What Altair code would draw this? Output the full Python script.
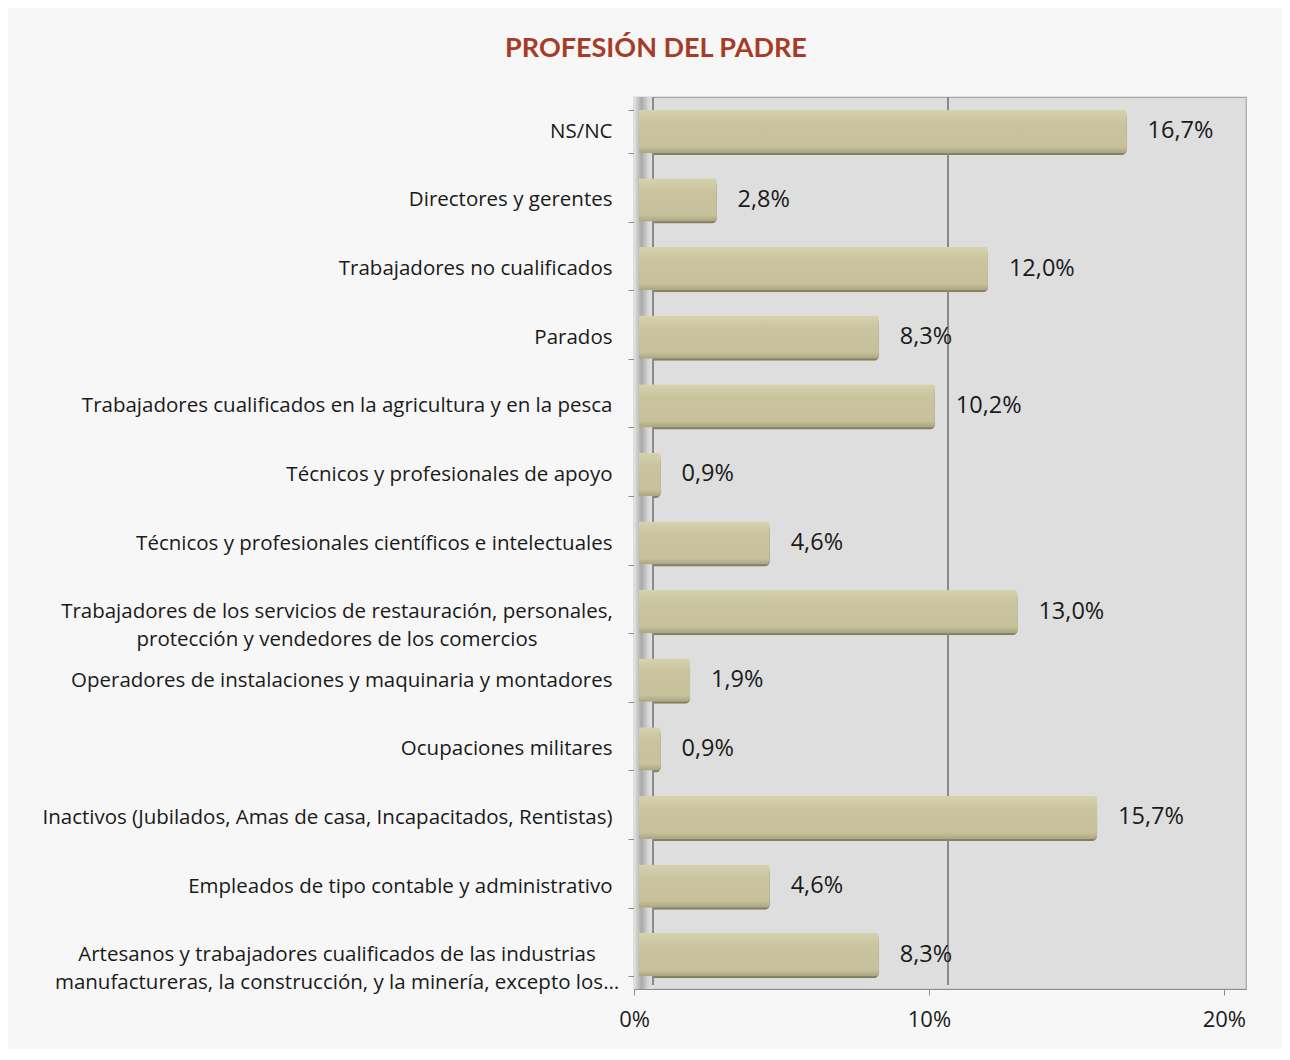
import altair as alt
import pandas as pd

categories = [
    "NS/NC",
    "Directores y gerentes",
    "Trabajadores no cualificados",
    "Parados",
    "Trabajadores cualificados en la agricultura y en la pesca",
    "Técnicos y profesionales de apoyo",
    "Técnicos y profesionales científicos e intelectuales",
    "Trabajadores de los servicios de restauración, personales,|protección y vendedores de los comercios",
    "Operadores de instalaciones y maquinaria y montadores",
    "Ocupaciones militares",
    "Inactivos (Jubilados, Amas de casa, Incapacitados, Rentistas)",
    "Empleados de tipo contable y administrativo",
    "Artesanos y trabajadores cualificados de las industrias|manufactureras, la construcción, y la minería, excepto los…",
]
values = [16.7, 2.8, 12.0, 8.3, 10.2, 0.9, 4.6, 13.0, 1.9, 0.9, 15.7, 4.6, 8.3]
x_ticks = [0, 10, 20]

df = pd.DataFrame({"cat": categories, "v": values})

W, H = 612, 892
FONT = "Open Sans"
TXT = "#1a1a1a"
AX = "#8c8c8c"
CAT_SIZE = 20.5

xscale = alt.Scale(domain=[0, 20.75], nice=False, zero=True)
yscale = alt.Scale(paddingInner=0.37, paddingOuter=0.185)

y_axis = alt.Axis(
    title=None,
    domain=True,
    domainColor=AX,
    ticks=True,
    tickBand="extent",
    tickSize=6,
    tickColor=AX,
    labelFont=FONT,
    labelFontSize=CAT_SIZE,
    labelColor=TXT,
    labelExpr="indexof(datum.label, '|') >= 0 ? '' : datum.label",
    labelLimit=0,
    labelOverlap=False,
    labelBound=False,
    labelPadding=16,
    grid=False,
)

x_axis = alt.Axis(
    title=None,
    values=x_ticks,
    labelExpr="datum.value + '%'",
    labelFlush=False,
    domain=True,
    domainColor=AX,
    ticks=True,
    tickSize=6,
    tickColor=AX,
    labelFont=FONT,
    labelFontSize=22,
    labelColor=TXT,
    labelPadding=14,
    grid=False,
)

base = alt.Chart(df)

shadow = base.mark_bar(color="#85805f", cornerRadiusEnd=5, xOffset=10, yOffset=2).encode(
    y=alt.Y("cat:N", sort=categories, scale=yscale, axis=y_axis),
    x=alt.X("v:Q", scale=xscale, axis=x_axis),
)

# left side wall (3D depth) and back-wall gridlines
wall = base.mark_rect(
    fill=alt.Gradient(
        gradient="linear", x1=0, y1=0, x2=1, y2=0,
        stops=[
            alt.GradientStop(color="#e4e4e4", offset=0),
            alt.GradientStop(color="#a9a9a9", offset=0.4),
            alt.GradientStop(color="#d6d6d6", offset=0.75),
            alt.GradientStop(color="#e2e2e2", offset=1),
        ],
    ),
).encode(
    x=alt.datum(0),
    x2=alt.datum(0.64),
    y=alt.value(0),
    y2=alt.value(H),
)

back_rule0 = base.mark_rule(color="#8a8a8a", strokeWidth=1.2, xOffset=19).encode(
    x=alt.datum(0),
    y=alt.value(0),
    y2=alt.value(H - 4),
)
back_rule10 = base.mark_rule(color="#8a8a8a", strokeWidth=1.2, xOffset=19).encode(
    x=alt.datum(10),
    y=alt.value(0),
    y2=alt.value(H - 4),
)

bars = base.mark_bar(
    cornerRadiusEnd=3,
    xOffset=5,
    fill=alt.Gradient(
        gradient="linear", x1=0, y1=0, x2=0, y2=1,
        stops=[
            alt.GradientStop(color="#d6d2ae", offset=0),
            alt.GradientStop(color="#c9c49e", offset=0.3),
            alt.GradientStop(color="#c6c19a", offset=0.85),
            alt.GradientStop(color="#aaa582", offset=1),
        ],
    ),
).encode(
    y=alt.Y("cat:N", sort=categories),
    x=alt.X("v:Q"),
)

labels = base.transform_calculate(
    lab="replace(format(datum.v, '.1f'), '.', ',') + '%'"
).mark_text(
    align="left", baseline="middle", dx=21, font=FONT, fontSize=23.5, color=TXT
).encode(
    y=alt.Y("cat:N", sort=categories),
    x=alt.X("v:Q"),
    text="lab:N",
)

# two-line category names, centred as a block
multi = base.transform_filter(
    "indexof(datum.cat, '|') >= 0"
).mark_text(
    align="center", baseline="middle", lineBreak="|", lineHeight=28,
    font=FONT, fontSize=CAT_SIZE, color=TXT,
).encode(
    y=alt.Y("cat:N", sort=categories),
    x=alt.value(-297),
    text="cat:N",
)

chart = alt.layer(shadow, wall, back_rule0, back_rule10, bars, labels, multi).properties(
    width=W,
    height=H,
    autosize=alt.AutoSizeParams(type="none"),
    padding={"left": 626, "top": 89, "right": 36, "bottom": 60},
    background="#f7f7f7",
    title=alt.TitleParams(
        "PROFESIÓN DEL PADRE",
        font="Lato",
        fontSize=27,
        fontWeight="bold",
        color="#a63c26",
        anchor="middle",
        dx=-284,
        offset=24,
    ),
).configure_view(fill="#dedede", stroke="#a6a6a6", strokeWidth=1.2)

chart.save("out.html", embed_options={"renderer": "svg", "actions": False})
